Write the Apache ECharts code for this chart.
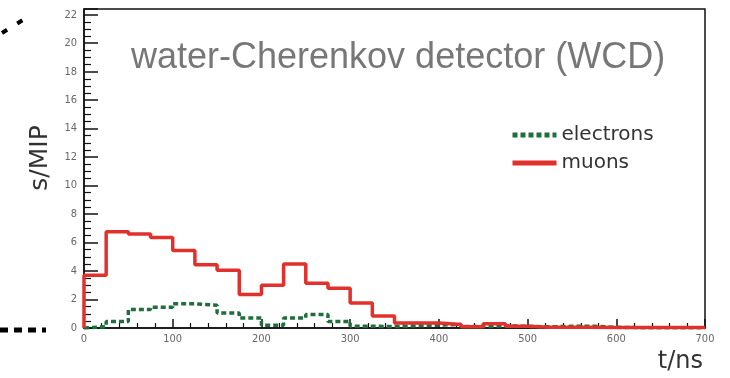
<!DOCTYPE html>
<html><head><meta charset="utf-8">
<script src="https://cdn.jsdelivr.net/npm/echarts@6/dist/echarts.min.js"></script>
<style>html,body{margin:0;padding:0;background:#fff}#c{width:730px;height:378px}</style>
</head><body><div id="c"></div>
<script>
// bin left edges (ns), bin width 25 ns
const binEdges = [0,25,50,75,100,125,150,175,200,225,250,275,300,325,350,375,400,425,450,475,500,525,550,575,600,625,650,675];
const xEnd = 700;
const muons = [3.7,6.75,6.6,6.35,5.45,4.45,4.05,2.35,3.0,4.5,3.15,2.8,1.75,0.85,0.35,0.35,0.25,0.08,0.3,0.12,0.05,0.05,0.05,0.04,0.03,0.03,0.03,0.03];
const electrons = [0.1,0.45,1.3,1.45,1.7,1.6,1.05,0.7,0.2,0.7,0.95,0.45,0.12,0.1,0.15,0.2,0.25,0.1,0.15,0.12,0.08,0.12,0.12,0.05,0.02,0.02,0.02,0.02];
const seriesNames = ['electrons','muons'];
const titleText = 'water-Cherenkov detector (WCD)';
const yTitle = 's/MIP';
const xTitle = 't/ns';

function histData(vals){
  const d = [[binEdges[0],0]];
  for(let i=0;i<vals.length;i++) d.push([binEdges[i], vals[i]]);
  d.push([xEnd, vals[vals.length-1]]);
  return d;
}

const chart = echarts.init(document.getElementById('c'), null, {renderer:'canvas'});
const axisCommon = {
  axisLine:{show:true, lineStyle:{color:'#111', width:1.5}},
  axisTick:{show:true, inside:true, lineStyle:{color:'#111', width:1.5}},
  minorTick:{show:true, lineStyle:{color:'#111', width:1.2}},
  splitLine:{show:false},
  axisLabel:{color:'#666', fontSize:11, fontFamily:'DejaVu Sans Condensed, Liberation Sans Narrow, sans-serif'}
};
chart.setOption({
  animation:false,
  backgroundColor:'#fff',
  title:{text:titleText, left:126, top:35, textStyle:{fontSize:36, fontWeight:'normal', color:'#777', fontFamily:'Liberation Sans, Arial, sans-serif'}},
  grid:{left:84, right:25, top:9, bottom:50, show:true, borderColor:'#111', borderWidth:1.5, backgroundColor:'transparent'},
  legend:{orient:'vertical', left:505, top:120, itemWidth:44, itemHeight:14, itemGap:8,
    itemStyle:{opacity:0}, lineStyle:{width:5},
    textStyle:{fontSize:20, color:'#333', fontFamily:'DejaVu Sans, sans-serif'}, data:seriesNames},
  xAxis:Object.assign({}, axisCommon, {type:'value', min:0, max:700, interval:100,
    axisTick:Object.assign({}, axisCommon.axisTick, {length:9}),
    minorTick:Object.assign({}, axisCommon.minorTick, {splitNumber:5, length:5}),
    axisLabel:Object.assign({}, axisCommon.axisLabel, {margin:6})}),
  yAxis:Object.assign({}, axisCommon, {type:'value', min:0, max:22.4, interval:2,
    axisTick:Object.assign({}, axisCommon.axisTick, {length:14}),
    minorTick:Object.assign({}, axisCommon.minorTick, {splitNumber:4, length:7}),
    axisLabel:Object.assign({}, axisCommon.axisLabel, {margin:7, showMaxLabel:false})}),
  graphic:[
    {type:'text', x:40, y:158, rotation:Math.PI/2, style:{text:yTitle, x:0, y:0, fontSize:25, fill:'#333', fontFamily:'DejaVu Sans, sans-serif', align:'center', verticalAlign:'middle'}},
    {type:'text', style:{text:xTitle, x:703, y:374, fontSize:24, fill:'#333', fontFamily:'DejaVu Sans, sans-serif', align:'right', verticalAlign:'bottom'}},
    {type:'line', shape:{x1:0, y1:330, x2:46, y2:330}, style:{stroke:'#000', lineWidth:5, lineDash:[8,6]}},
    {type:'line', shape:{x1:2, y1:33, x2:26, y2:18}, style:{stroke:'#000', lineWidth:4, lineDash:[6,12]}}
  ],
  series:[
    {name:seriesNames[0], type:'line', step:'end', symbol:'none', data:histData(electrons), z:2,
      lineStyle:{color:'#1f6e3d', width:3.5, type:[5,3]}, itemStyle:{color:'#1f6e3d'}},
    {name:seriesNames[1], type:'line', step:'end', symbol:'none', data:histData(muons), z:3,
      lineStyle:{color:'#e2302c', width:3.5}, itemStyle:{color:'#e2302c'}}
  ]
});
</script></body></html>
